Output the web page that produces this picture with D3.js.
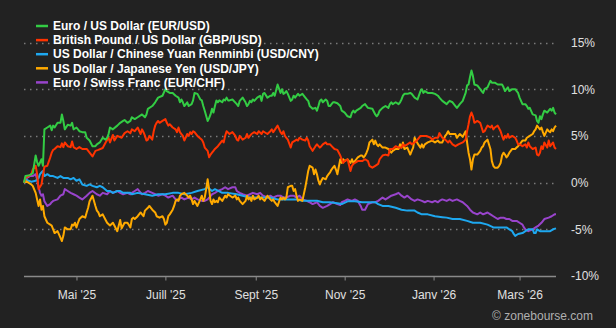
<!DOCTYPE html>
<html>
<head>
<meta charset="utf-8">
<script src="https://cdn.jsdelivr.net/npm/d3@7"></script>
<style>
  html, body { margin: 0; padding: 0; background: #222222; }
  svg { display: block; }
  text { font-family: "Liberation Sans", Arial, sans-serif; }
</style>
</head>
<body>
<svg id="chart" width="616" height="328"></svg>
<script>
// Performance of five currency pairs over one year, rebased to 0 % on the start date.
// Each observation is [days since START, % change].
const START = Date.UTC(2025, 2, 26);
const END = Date.UTC(2026, 2, 26);

const seriesNames = [
  "Euro / US Dollar (EUR/USD)",
  "British Pound / US Dollar (GBP/USD)",
  "US Dollar / Chinese Yuan Renminbi (USD/CNY)",
  "US Dollar / Japanese Yen (USD/JPY)",
  "Euro / Swiss Franc (EUR/CHF)"
];

const eurUsd = [[0,0],[1,0.7],[4,0.8],[6,1.0],[8,2.9],[9,2.2],[10,1.8],[12,2.5],[13,1.8],[14,5.7],[16,5.9],[18,6.1],[19,5.6],[20,6.1],[21,5.9],[23,6.4],[25,6.4],[26,7.3],[27,6.6],[28,5.7],[30,6.2],[32,6.1],[33,6.4],[34,5.7],[36,5.9],[38,5.5],[40,5.4],[42,5.4],[43,4.8],[45,4.5],[47,3.9],[49,3.9],[50,4.1],[52,4.3],[54,4.8],[56,4.6],[57,4.8],[58,5.2],[59,5.9],[61,5.7],[64,6.1],[66,6.4],[68,6.6],[69,6.7],[71,6.4],[73,6.6],[74,7.0],[76,6.8],[78,7.0],[81,7.3],[83,7.0],[84,7.3],[85,7.9],[88,8.2],[90,8.6],[92,9.1],[95,9.3],[97,10.0],[98,9.8],[100,9.6],[102,9.6],[104,9.3],[106,9.1],[107,8.6],[108,8.9],[109,8.6],[110,8.2],[112,8.6],[113,8.2],[115,8.4],[116,8.8],[117,9.6],[119,9.5],[121,8.9],[122,8.8],[123,8.2],[124,7.7],[126,6.6],[127,6.9],[128,7.3],[129,7.9],[130,7.5],[131,8.2],[132,8.8],[133,8.6],[134,8.8],[136,8.6],[137,8.9],[138,8.8],[139,9.1],[140,8.8],[141,8.8],[143,8.9],[146,8.4],[147,8.2],[148,8.75],[150,9.1],[152,8.6],[153,8.2],[154,8.4],[155,8.75],[156,8.6],[157,8.9],[158,8.75],[160,9.1],[162,9.3],[163,8.75],[164,9.5],[165,9.6],[167,9.1],[169,9.3],[170,9.3],[171,9.6],[172,9.3],[174,10.5],[176,9.6],[177,10.0],[178,9.5],[179,9.6],[180,9.8],[181,9.5],[183,8.75],[184,8.9],[185,9.3],[186,9.1],[187,9.3],[188,9.5],[189,9.3],[191,9.5],[193,9.1],[194,8.9],[195,8.75],[196,8.2],[198,7.9],[200,8.0],[201,7.7],[202,8.2],[203,8.75],[204,8.9],[205,8.6],[207,8.9],[208,8.75],[209,8.2],[210,8.2],[211,8.4],[212,8.6],[213,8.6],[215,8.5],[217,8.2],[218,7.7],[220,7.5],[222,7.1],[224,7.0],[225,7.5],[226,7.7],[227,7.5],[228,7.7],[231,8.0],[232,8.2],[234,8.4],[235,8.2],[236,8.0],[239,7.9],[241,7.3],[242,7.1],[243,7.3],[244,7.7],[246,8.0],[248,8.2],[250,8.0],[251,8.4],[252,8.6],[253,8.4],[255,8.6],[257,8.4],[258,8.6],[259,8.9],[260,9.3],[261,9.5],[263,9.5],[265,9.6],[266,9.5],[268,9.1],[270,8.9],[272,9.8],[273,10.0],[274,9.6],[275,9.8],[277,9.6],[280,9.6],[282,9.5],[284,9.3],[285,9.1],[287,8.75],[290,8.4],[291,8.6],[292,8.75],[294,8.6],[296,8.2],[297,8.0],[298,8.2],[299,8.4],[301,8.75],[303,9.6],[304,10.4],[305,10.5],[306,11.3],[307,12.0],[308,11.4],[309,10.5],[311,10.4],[313,10.0],[314,9.8],[315,9.6],[316,10.0],[318,10.2],[320,10.9],[321,10.7],[323,10.7],[325,10.5],[328,10.5],[329,10.2],[330,9.8],[331,10.0],[332,10.2],[333,9.8],[335,10.0],[337,10.0],[338,9.8],[339,9.6],[340,9.1],[342,8.4],[344,8.4],[345,8.2],[346,7.9],[347,8.0],[349,7.3],[351,7.2],[352,6.6],[353,6.4],[354,7.1],[355,6.8],[356,7.3],[357,7.7],[359,7.5],[360,7.7],[361,7.9],[362,7.7],[363,8.0],[364,7.5],[365,7.3]];

const gbpUsd = [[0,0],[1,0.5],[3,0.7],[5,0.9],[6,1.4],[8,1.8],[9,0.9],[10,-0.7],[12,-0.2],[13,0.8],[14,1.7],[16,1.8],[18,2.7],[19,3.2],[20,3.5],[21,3.6],[23,3.9],[25,3.8],[26,4.2],[27,3.8],[28,4.3],[30,3.9],[32,3.8],[33,4.4],[34,3.8],[36,3.6],[38,3.8],[40,3.6],[43,3.6],[45,3.2],[47,2.8],[49,3.4],[51,3.5],[54,3.7],[56,4.3],[58,4.8],[59,4.3],[61,5.1],[62,4.5],[64,5.0],[67,4.8],[69,5.3],[71,5.5],[73,5.3],[74,5.7],[76,5.5],[78,5.9],[80,5.2],[81,5.7],[82,5.4],[83,5.0],[84,4.5],[85,4.6],[86,5.0],[88,4.6],[89,5.5],[90,6.1],[91,6.4],[92,6.6],[93,6.4],[95,6.6],[97,6.8],[98,6.4],[99,6.1],[100,6.25],[102,5.9],[104,5.7],[105,5.4],[106,5.9],[107,5.4],[108,5.2],[109,5.0],[110,4.5],[112,5.2],[113,5.0],[114,5.4],[115,5.2],[116,5.5],[117,5.4],[119,5.0],[122,4.6],[123,4.3],[124,3.75],[126,3.4],[127,2.7],[128,3.0],[129,3.2],[130,3.4],[131,3.6],[133,3.9],[136,4.5],[137,4.3],[138,5.0],[139,5.5],[141,5.2],[143,5.4],[145,5.0],[146,4.6],[147,4.5],[148,5.0],[150,4.6],[152,4.8],[153,5.2],[154,4.8],[155,5.0],[156,5.2],[158,5.4],[160,5.2],[161,5.5],[163,5.2],[164,5.5],[167,5.2],[169,5.5],[170,5.7],[171,5.4],[174,6.1],[176,5.4],[177,5.2],[178,5.5],[179,5.0],[180,4.8],[181,4.6],[183,3.75],[184,4.3],[186,4.5],[187,4.6],[188,4.5],[189,4.8],[191,4.6],[193,4.5],[194,4.8],[195,4.5],[196,3.9],[198,3.4],[200,3.9],[201,4.1],[203,3.75],[204,3.9],[205,4.1],[207,4.3],[208,4.1],[210,4.1],[212,3.75],[213,3.6],[215,3.5],[217,2.9],[218,2.5],[219,2.1],[220,2.3],[222,2.5],[224,1.25],[225,1.8],[226,2.0],[227,2.1],[229,2.3],[232,2.3],[234,2.5],[236,2.3],[237,1.8],[239,1.6],[241,1.8],[243,2.0],[244,2.5],[246,2.9],[248,3.0],[250,2.9],[251,3.6],[253,3.6],[255,3.9],[257,3.75],[259,3.75],[260,4.1],[261,3.9],[263,4.1],[265,4.3],[266,4.1],[268,4.3],[270,4.6],[272,5.0],[274,5.0],[276,5.0],[279,4.8],[280,4.6],[282,4.8],[284,4.8],[285,5.3],[287,4.8],[289,4.6],[291,4.3],[292,4.5],[294,4.1],[296,3.9],[298,4.1],[301,4.3],[303,4.6],[304,5.5],[305,6.25],[306,7.1],[307,7.5],[308,7.1],[309,6.4],[311,6.6],[313,6.4],[314,5.9],[315,5.4],[316,5.5],[318,6.1],[320,5.9],[321,6.1],[322,5.7],[323,5.9],[325,6.1],[327,5.5],[328,5.0],[329,4.6],[330,5.0],[331,4.8],[332,5.2],[333,4.8],[335,5.0],[337,4.8],[338,4.5],[339,4.1],[340,4.1],[342,3.9],[344,4.1],[345,3.75],[346,4.3],[347,3.9],[349,3.6],[351,3.75],[352,3.0],[353,2.9],[354,3.2],[355,3.9],[356,3.6],[357,4.3],[359,3.75],[360,4.5],[361,3.9],[362,4.1],[363,4.3],[364,3.75],[365,3.6]];

const usdCny = [[0,0],[1,0.35],[3,0.2],[5,0.1],[8,0.2],[10,0.5],[11,0.9],[12,1.1],[13,1.25],[14,0.7],[16,0.9],[18,0.7],[20,0.7],[23,0.5],[25,0.7],[27,0.5],[30,0.5],[32,0.35],[34,0.5],[36,0.2],[38,0.35],[40,-0.2],[43,-0.35],[45,-0.2],[47,-0.35],[50,-0.5],[52,-0.35],[54,-0.5],[57,-0.9],[59,-0.9],[61,-1.1],[64,-0.9],[66,-0.9],[68,-1.1],[73,-1.1],[74,-1.25],[78,-1.1],[83,-1.25],[88,-1.4],[92,-1.25],[97,-1.25],[102,-1.1],[106,-1.1],[110,-1.25],[115,-1.1],[119,-0.9],[124,-0.7],[126,-0.5],[129,-0.9],[131,-0.7],[136,-1.1],[140,-1.1],[146,-1.25],[150,-1.4],[155,-1.6],[160,-1.6],[164,-1.6],[169,-1.6],[174,-1.8],[178,-1.8],[183,-1.8],[187,-1.8],[191,-1.95],[196,-1.95],[201,-1.95],[205,-2.1],[210,-2.1],[215,-2.2],[218,-2.3],[222,-2.0],[227,-2.0],[232,-2.1],[236,-2.1],[241,-2.1],[243,-2.3],[246,-2.5],[250,-2.5],[255,-2.7],[259,-2.9],[263,-3.0],[268,-3.0],[270,-3.2],[273,-3.4],[277,-3.4],[282,-3.6],[287,-3.7],[290,-3.75],[294,-3.9],[299,-3.9],[304,-4.1],[308,-4.3],[313,-4.3],[318,-4.5],[322,-4.8],[327,-4.8],[331,-4.8],[333,-5.0],[335,-5.2],[336,-5.5],[337,-5.7],[339,-5.5],[342,-5.4],[344,-5.2],[346,-5.0],[349,-5.0],[350,-5.4],[351,-5.4],[352,-5.0],[354,-5.2],[356,-5.2],[359,-5.2],[361,-5.2],[363,-5.0],[365,-4.9]];

const usdJpy = [[0,0],[1,0.2],[3,0.0],[5,-0.2],[6,-0.35],[8,-1.1],[9,-1.8],[10,-2.5],[11,-1.8],[12,-2.9],[13,-2.5],[14,-3.6],[16,-4.3],[18,-4.5],[19,-4.6],[20,-5.0],[21,-5.4],[23,-5.2],[25,-5.9],[26,-6.25],[27,-5.7],[28,-4.8],[30,-5.0],[32,-5.0],[33,-4.5],[34,-4.6],[35,-4.3],[36,-4.8],[37,-4.3],[38,-3.9],[40,-3.6],[42,-3.75],[43,-3.2],[44,-2.7],[45,-2.0],[47,-1.4],[49,-2.5],[50,-3.0],[51,-3.2],[52,-3.6],[54,-3.4],[56,-4.0],[57,-4.3],[59,-4.6],[61,-4.3],[62,-4.6],[64,-5.2],[66,-4.0],[67,-4.9],[69,-4.3],[71,-4.3],[73,-4.8],[74,-3.9],[75,-3.75],[76,-3.9],[78,-3.6],[80,-3.2],[81,-3.4],[82,-3.6],[83,-3.0],[85,-2.7],[86,-2.5],[88,-2.9],[90,-3.2],[91,-3.6],[93,-3.75],[95,-3.6],[96,-3.9],[97,-4.5],[98,-4.3],[99,-3.6],[100,-3.4],[102,-2.9],[103,-2.5],[104,-1.96],[105,-1.8],[106,-1.96],[107,-1.4],[108,-1.25],[110,-1.1],[112,-1.4],[113,-1.6],[114,-1.4],[115,-1.8],[116,-2.3],[117,-1.96],[119,-2.5],[121,-1.8],[122,-1.4],[123,-1.96],[124,-1.6],[125,-0.7],[126,0.35],[127,-0.7],[128,-1.96],[129,-2.3],[130,-1.8],[131,-2.1],[132,-1.96],[133,-2.1],[134,-1.6],[136,-1.96],[138,-1.4],[139,-1.6],[140,-1.25],[143,-1.6],[145,-1.4],[146,-1.8],[147,-1.6],[148,-1.96],[150,-2.3],[152,-1.96],[153,-1.4],[154,-1.8],[155,-1.6],[156,-1.96],[157,-1.4],[158,-1.8],[160,-1.6],[161,-1.4],[162,-1.8],[163,-1.6],[164,-1.8],[165,-1.96],[167,-1.4],[169,-1.8],[170,-1.96],[171,-1.8],[172,-2.1],[174,-2.5],[176,-1.6],[177,-1.8],[178,-1.6],[179,-1.8],[180,-1.6],[181,-0.5],[183,-0.35],[184,-0.35],[185,-0.9],[186,-0.7],[187,-1.4],[188,-1.96],[189,-1.8],[191,-1.96],[193,-0.5],[194,0.35],[195,1.25],[196,1.8],[198,1.6],[199,0.9],[200,1.4],[201,0.9],[202,0.2],[203,-0.2],[204,0.2],[205,0.5],[207,0.35],[208,0.7],[209,0.9],[210,1.1],[211,1.4],[212,1.6],[213,1.8],[214,1.4],[215,0.9],[217,2.5],[218,2.1],[219,2.5],[220,2.3],[222,2.5],[224,2.1],[225,2.5],[226,2.1],[227,2.3],[228,2.5],[229,2.7],[231,2.9],[232,2.9],[233,2.7],[234,2.9],[235,3.2],[236,3.6],[237,4.3],[239,4.6],[240,4.1],[241,4.5],[242,4.1],[243,3.9],[244,4.1],[246,3.75],[248,3.75],[250,3.6],[251,3.4],[252,3.2],[253,3.4],[255,3.6],[257,3.6],[258,4.1],[259,3.75],[260,4.3],[261,3.6],[263,3.75],[265,3.0],[266,3.4],[267,3.75],[268,4.8],[270,4.2],[272,3.75],[273,4.1],[274,3.75],[275,4.1],[277,4.3],[280,4.5],[282,4.3],[284,4.5],[285,4.3],[287,4.3],[289,5.0],[290,5.2],[291,5.5],[292,5.2],[294,5.2],[296,5.2],[297,4.8],[298,5.0],[299,5.2],[301,4.9],[303,5.5],[304,4.3],[305,3.2],[306,2.5],[307,1.4],[308,2.5],[309,3.0],[311,3.0],[313,3.4],[314,3.75],[315,3.9],[316,4.3],[318,4.6],[320,3.6],[321,2.3],[322,1.8],[323,1.6],[325,1.6],[326,1.8],[327,2.1],[328,2.9],[329,3.2],[330,3.0],[331,2.7],[332,2.9],[333,3.2],[335,3.6],[337,3.6],[338,3.75],[339,3.9],[340,4.1],[342,4.5],[344,4.5],[345,4.8],[347,5.0],[349,5.2],[350,5.5],[351,5.7],[352,6.1],[353,5.9],[354,5.7],[355,5.9],[356,5.4],[357,5.0],[359,5.7],[360,5.5],[361,5.4],[362,5.7],[363,5.5],[364,5.9],[365,6.1]];

const eurChf = [[0,0],[1,0.1],[2,0.5],[4,0.7],[6,0.7],[8,0.9],[9,0.35],[10,-0.5],[11,-1.1],[12,-1.4],[13,-1.25],[14,-2.0],[16,-2.5],[18,-2.3],[19,-2.1],[20,-1.96],[23,-1.8],[25,-1.4],[27,-1.25],[28,-0.7],[30,-0.9],[32,-1.1],[34,-1.25],[36,-1.4],[38,-1.6],[40,-1.8],[43,-1.4],[45,-1.1],[47,-0.9],[50,-1.25],[52,-1.4],[54,-1.1],[57,-1.25],[59,-0.9],[61,-1.1],[64,-0.9],[66,-1.1],[68,-1.25],[71,-1.1],[73,-1.25],[74,-1.1],[76,-0.9],[78,-0.7],[81,-1.25],[83,-1.1],[85,-0.9],[88,-1.1],[90,-1.25],[92,-1.4],[95,-1.25],[97,-1.4],[99,-1.6],[102,-1.4],[104,-1.8],[105,-1.96],[106,-1.8],[108,-1.6],[110,-1.8],[113,-1.6],[115,-1.8],[117,-1.6],[119,-1.8],[122,-1.96],[124,-1.96],[126,-1.8],[129,-1.25],[131,-1.1],[133,-0.9],[136,-0.7],[138,-0.5],[140,-0.7],[143,-0.5],[145,-0.5],[146,-0.9],[148,-1.1],[150,-1.25],[153,-1.4],[155,-1.25],[157,-1.1],[160,-1.25],[162,-1.1],[164,-1.4],[167,-1.6],[169,-1.4],[171,-1.6],[174,-1.4],[176,-1.4],[178,-1.6],[180,-1.6],[183,-1.4],[185,-1.4],[187,-1.6],[189,-1.4],[191,-1.8],[194,-1.96],[196,-2.1],[198,-2.3],[201,-2.1],[203,-2.5],[205,-2.7],[208,-2.5],[210,-2.3],[212,-2.1],[215,-2.3],[217,-2.4],[218,-2.1],[220,-1.96],[222,-1.8],[225,-1.96],[227,-1.8],[229,-1.96],[231,-2.5],[232,-2.9],[234,-2.9],[236,-2.3],[239,-2.1],[241,-2.1],[243,-1.96],[246,-1.6],[248,-1.8],[250,-1.6],[252,-1.4],[255,-1.25],[257,-1.1],[259,-1.4],[261,-1.6],[263,-1.4],[266,-1.8],[268,-1.96],[270,-1.8],[273,-1.96],[275,-2.1],[277,-1.96],[280,-2.1],[282,-1.96],[284,-2.1],[285,-1.96],[287,-1.8],[290,-1.96],[292,-1.8],[294,-1.96],[297,-1.8],[299,-1.96],[301,-2.1],[304,-2.5],[306,-2.9],[308,-3.2],[311,-3.4],[313,-3.2],[315,-3.4],[318,-3.2],[320,-3.4],[322,-3.6],[325,-3.9],[327,-3.75],[329,-3.75],[331,-3.9],[333,-3.9],[335,-4.1],[338,-4.1],[340,-4.3],[342,-4.5],[343,-4.8],[344,-5.0],[346,-5.2],[349,-5.0],[351,-4.8],[353,-4.6],[355,-4.3],[357,-3.9],[360,-3.75],[362,-3.6],[364,-3.4],[365,-3.4]];

const seriesValues = [eurUsd, gbpUsd, usdCny, usdJpy, eurChf];
const seriesColors = ["#33cc44", "#ff3300", "#1ea8f0", "#ffaa00", "#9944cc"];

const yTicks = [-10, -5, 0, 5, 10, 15];
const xTickDates = [
  Date.UTC(2025, 4, 1), Date.UTC(2025, 6, 1), Date.UTC(2025, 8, 1),
  Date.UTC(2025, 10, 1), Date.UTC(2026, 0, 1), Date.UTC(2026, 2, 1)
];
const xTickLabels = ["Mai '25", "Juill '25", "Sept '25", "Nov '25", "Janv '26", "Mars '26"];

const svg = d3.select("#chart");
const W = 616, H = 328;
svg.append("rect").attr("width", W).attr("height", H).attr("fill", "#222222");

const plot = { left: 24, right: 556, top: 42.5, bottom: 276 };

const x = d3.scaleUtc().domain([START, END]).range([plot.left, plot.right]);
const y = d3.scaleLinear().domain([-10, 15]).range([plot.bottom, plot.top]);

// dotted horizontal grid
svg.append("g")
  .selectAll("line")
  .data(yTicks.filter(t => t !== -10))
  .join("line")
  .attr("x1", plot.left).attr("x2", plot.right)
  .attr("y1", d => Math.round(y(d)) + 0.5).attr("y2", d => Math.round(y(d)) + 0.5)
  .attr("stroke", "#7a7a7a")
  .attr("stroke-width", 1.5)
  .attr("stroke-dasharray", "1.5,4.5");

// right-hand percentage labels
const yAxis = d3.axisRight(y).tickValues(yTicks).tickSize(0).tickPadding(0)
  .tickFormat(d => d + "%");
svg.append("g")
  .attr("transform", `translate(571,0)`)
  .call(yAxis)
  .call(g => g.select(".domain").remove())
  .call(g => g.selectAll("text")
    .attr("fill", "#e0e0e0")
    .attr("font-size", 12)
    .attr("font-family", "'Liberation Sans', Arial, sans-serif"));

// bottom time axis
const xAxis = d3.axisBottom(x).tickValues(xTickDates).tickSize(4).tickPadding(10)
  .tickFormat((d, i) => xTickLabels[i]);
svg.append("g")
  .attr("transform", `translate(0,${Math.round(plot.bottom) + 0.5})`)
  .call(xAxis)
  .call(g => g.select(".domain")
    .attr("d", `M${plot.left},0H${plot.right}`)
    .attr("stroke", "#8a8a8a").attr("stroke-width", 1.5))
  .call(g => g.selectAll(".tick line").attr("stroke", "#8a8a8a"))
  .call(g => g.selectAll("text")
    .attr("fill", "#e0e0e0")
    .attr("font-size", 12)
    .attr("font-family", "'Liberation Sans', Arial, sans-serif"));

// series lines
const line = d3.line()
  .x(d => x(d3.utcDay.offset(START, d[0])))
  .y(d => y(d[1]))
  .curve(d3.curveLinear);

const drawOrder = [4, 2, 3, 1, 0];
svg.append("g")
  .selectAll("path")
  .data(drawOrder)
  .join("path")
  .attr("d", i => line(seriesValues[i]))
  .attr("fill", "none")
  .attr("stroke", i => seriesColors[i])
  .attr("stroke-width", 2)
  .attr("stroke-linejoin", "round");

// legend
const legend = svg.append("g").attr("transform", "translate(36,26)");
const rows = legend.selectAll("g").data(seriesNames).join("g")
  .attr("transform", (d, i) => `translate(0,${i * 14.1})`);
rows.append("line")
  .attr("x1", 0).attr("x2", 12).attr("y1", 0).attr("y2", 0)
  .attr("stroke", (d, i) => seriesColors[i]).attr("stroke-width", 2.5);
rows.append("text")
  .attr("x", 17).attr("y", 0).attr("dy", "0.35em")
  .attr("fill", "#ffffff")
  .attr("font-size", 12)
  .attr("font-weight", "bold")
  .text(d => d);

// credit
svg.append("text")
  .attr("x", 593).attr("y", 320)
  .attr("text-anchor", "end")
  .attr("fill", "#b0b0b0")
  .attr("font-size", 12)
  .text("© zonebourse.com");
</script>
</body>
</html>
